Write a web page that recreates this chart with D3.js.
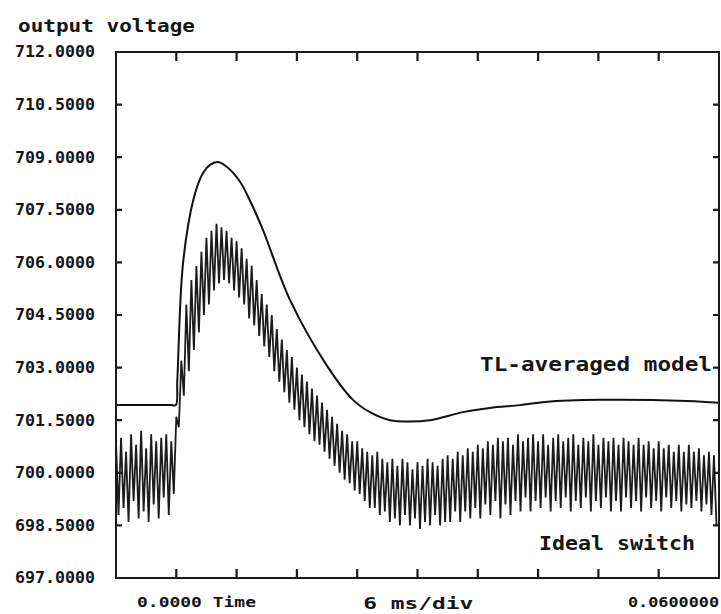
<!DOCTYPE html>
<html>
<head>
<meta charset="utf-8">
<script src="https://d3js.org/d3.v7.min.js"></script>
<style>
  body { margin: 0; background: #fff; }
  svg { display: block; }
  text { font-family: "DejaVu Sans Mono", "Liberation Mono", monospace; font-weight: bold; fill: #151515; }
</style>
</head>
<body>
<div id="chart"></div>
<script>
// output voltage (V) vs time (ms)
const yTicks = [697.0, 698.5, 700.0, 701.5, 703.0, 704.5, 706.0, 707.5, 709.0, 710.5, 712.0];
const xTicks = [0, 6, 12, 18, 24, 30, 36, 42, 48, 54, 60];

// TL-averaged model (smooth curve)
const tlTime = [0, 3, 5.5, 5.95, 6.1, 6.67, 7.76, 8.66, 9.35, 10.15, 11.04, 12.34, 13.43, 14.63, 17.31, 21.0, 23.58, 25.27, 27.26, 29.2, 31.24, 34.53, 37.21, 40.2, 42.69, 48.16, 56.8, 60];
const tlValue = [701.93, 701.93, 701.93, 701.93, 702.65, 705.98, 707.86, 708.55, 708.78, 708.86, 708.72, 708.3, 707.7, 706.92, 704.93, 703.05, 702.08, 701.73, 701.5, 701.46, 701.5, 701.73, 701.85, 701.93, 702.02, 702.08, 702.05, 702.0];

// Ideal switch: ripple peaks / troughs, one sample every 0.25 ms
const idealStep = 0.25;
const idealValue = [
  700.9, 698.8, 701.0, 699.0, 700.6, 698.6, 701.1, 699.2, 700.8, 698.7, 701.2, 698.9,
  700.7, 698.6, 701.1, 699.1, 700.9, 698.7, 701.0, 699.3, 701.1, 698.8, 700.9, 699.4,
  701.6, 701.3, 703.2, 702.2, 704.8, 702.9, 705.5, 703.5, 705.9, 704.0, 706.3, 704.5,
  706.7, 704.8, 706.9, 705.2, 707.1, 705.4, 707.0, 705.5, 706.9, 705.4, 706.7, 705.2,
  706.6, 705.0, 706.4, 704.8, 706.1, 704.4, 705.9, 704.2, 705.5, 703.9, 705.1, 703.6,
  704.8, 703.3, 704.5, 702.9, 704.1, 702.6, 703.8, 702.3, 703.5, 702.0, 703.3, 701.8,
  703.0, 701.5, 702.8, 701.3, 702.6, 701.1, 702.4, 700.9, 702.2, 700.8, 702.0, 700.6,
  701.8, 700.4, 701.6, 700.2, 701.4, 700.0, 701.2, 699.8, 701.1, 699.7, 700.9, 699.5,
  700.9, 699.4, 700.7, 699.2, 700.6, 699.0, 700.5, 699.0, 700.6, 698.8, 700.4, 698.9,
  700.3, 698.6, 700.4, 698.7, 700.2, 698.5, 700.4, 698.8, 700.3, 698.5, 700.1, 698.7,
  700.3, 698.4, 700.2, 698.6, 700.4, 698.5, 700.3, 698.8, 700.2, 698.5, 700.4, 698.6,
  700.5, 698.6, 700.4, 698.9, 700.6, 698.6, 700.5, 698.9, 700.7, 698.7, 700.6, 699.0,
  700.8, 698.7, 700.7, 699.1, 700.9, 698.8, 700.8, 699.2, 701.0, 698.7, 700.9, 699.1,
  701.0, 698.8, 700.8, 699.2, 701.1, 698.9, 700.9, 699.3, 701.0, 698.9, 701.1, 699.2,
  700.9, 699.0, 701.1, 699.3, 700.8, 698.9, 701.0, 699.2, 701.1, 699.0, 700.9, 699.3,
  701.0, 698.9, 701.1, 699.2, 700.8, 699.0, 701.0, 699.3, 700.9, 698.9, 701.1, 699.2,
  700.8, 699.0, 701.0, 699.3, 700.9, 698.9, 701.0, 699.2, 700.8, 698.9, 701.0, 699.3,
  700.9, 699.0, 700.8, 699.2, 701.0, 698.9, 700.8, 699.3, 700.9, 699.0, 700.7, 699.2,
  700.9, 698.9, 700.7, 699.3, 700.8, 699.0, 700.6, 699.2, 700.8, 698.9, 700.6, 699.1,
  700.8, 699.0, 700.6, 699.2, 700.7, 698.9, 700.5, 699.1, 700.6, 698.8, 700.5, 698.5
];

const width = 721;
const height = 614;
const margin = { top: 52, right: 2, bottom: 36, left: 116 };
const iw = width - margin.left - margin.right;
const ih = height - margin.top - margin.bottom;

const svg = d3.select("#chart")
  .append("svg")
    .attr("width", width)
    .attr("height", height);

const g = svg.append("g")
  .attr("transform", `translate(${margin.left},${margin.top})`);

const x = d3.scaleLinear().domain([0, 60]).range([0, iw]);
const y = d3.scaleLinear().domain([697, 712]).range([ih, 0]);

const innerX = xTicks.slice(1, -1);
const innerY = yTicks.slice(1, -1);

// ideal switch ripple
const idealLine = d3.line()
  .x((d, i) => x(i * idealStep))
  .y(d => y(d));
g.append("path")
  .datum(idealValue)
  .attr("d", idealLine)
  .attr("fill", "none")
  .attr("stroke", "#1c1c1c")
  .attr("stroke-width", 1.8);

// TL-averaged model
const tlLine = d3.line()
  .x(d => x(d[0]))
  .y(d => y(d[1]))
  .curve(d3.curveCatmullRom.alpha(0.5));
g.append("path")
  .datum(d3.zip(tlTime, tlValue))
  .attr("d", tlLine)
  .attr("fill", "none")
  .attr("stroke", "#111")
  .attr("stroke-width", 2);

// frame
g.append("rect")
  .attr("width", iw)
  .attr("height", ih)
  .attr("fill", "none")
  .attr("stroke", "#1a1a1a")
  .attr("stroke-width", 2);

// inward tick marks on all four sides
const tickPath = d3.path();
innerX.forEach(d => {
  tickPath.moveTo(x(d), ih); tickPath.lineTo(x(d), ih - 9);
  tickPath.moveTo(x(d), 0); tickPath.lineTo(x(d), 9);
});
innerY.forEach(d => {
  tickPath.moveTo(0, y(d)); tickPath.lineTo(6, y(d));
  tickPath.moveTo(iw, y(d)); tickPath.lineTo(iw - 6, y(d));
});
g.append("path")
  .attr("d", tickPath.toString())
  .attr("fill", "none")
  .attr("stroke", "#1a1a1a")
  .attr("stroke-width", 2.2);

// left axis labels
const yAxis = g.append("g")
  .call(d3.axisLeft(y).tickValues(yTicks).tickSize(0).tickPadding(21).tickFormat(d3.format(".4f")));
yAxis.select(".domain").remove();
yAxis.selectAll("text")
  .attr("font-size", 15)
  .attr("textLength", 80)
  .attr("lengthAdjust", "spacingAndGlyphs");

// texts
svg.append("text")
  .attr("x", 18).attr("y", 32)
  .attr("font-size", 17)
  .attr("textLength", 177).attr("lengthAdjust", "spacingAndGlyphs")
  .text("output voltage");

g.append("text")
  .attr("x", iw - 7).attr("y", y(703.0) + 3)
  .attr("text-anchor", "end")
  .attr("font-size", 19)
  .attr("textLength", 232).attr("lengthAdjust", "spacingAndGlyphs")
  .text("TL-averaged model");

g.append("text")
  .attr("x", iw - 24).attr("y", y(697.8))
  .attr("text-anchor", "end")
  .attr("font-size", 19)
  .attr("textLength", 156).attr("lengthAdjust", "spacingAndGlyphs")
  .text("Ideal switch");

g.append("text")
  .attr("x", x(0) + 21).attr("y", ih + 29)
  .attr("font-size", 14)
  .attr("textLength", 119).attr("lengthAdjust", "spacingAndGlyphs")
  .text("0.0000 Time");

g.append("text")
  .attr("x", x(24.6)).attr("y", ih + 31)
  .attr("font-size", 16)
  .attr("textLength", 110).attr("lengthAdjust", "spacingAndGlyphs")
  .text("6 ms/div");

g.append("text")
  .attr("x", x(60)).attr("y", ih + 29)
  .attr("text-anchor", "end")
  .attr("font-size", 14)
  .attr("textLength", 91).attr("lengthAdjust", "spacingAndGlyphs")
  .text("0.0600000");
</script>
</body>
</html>
